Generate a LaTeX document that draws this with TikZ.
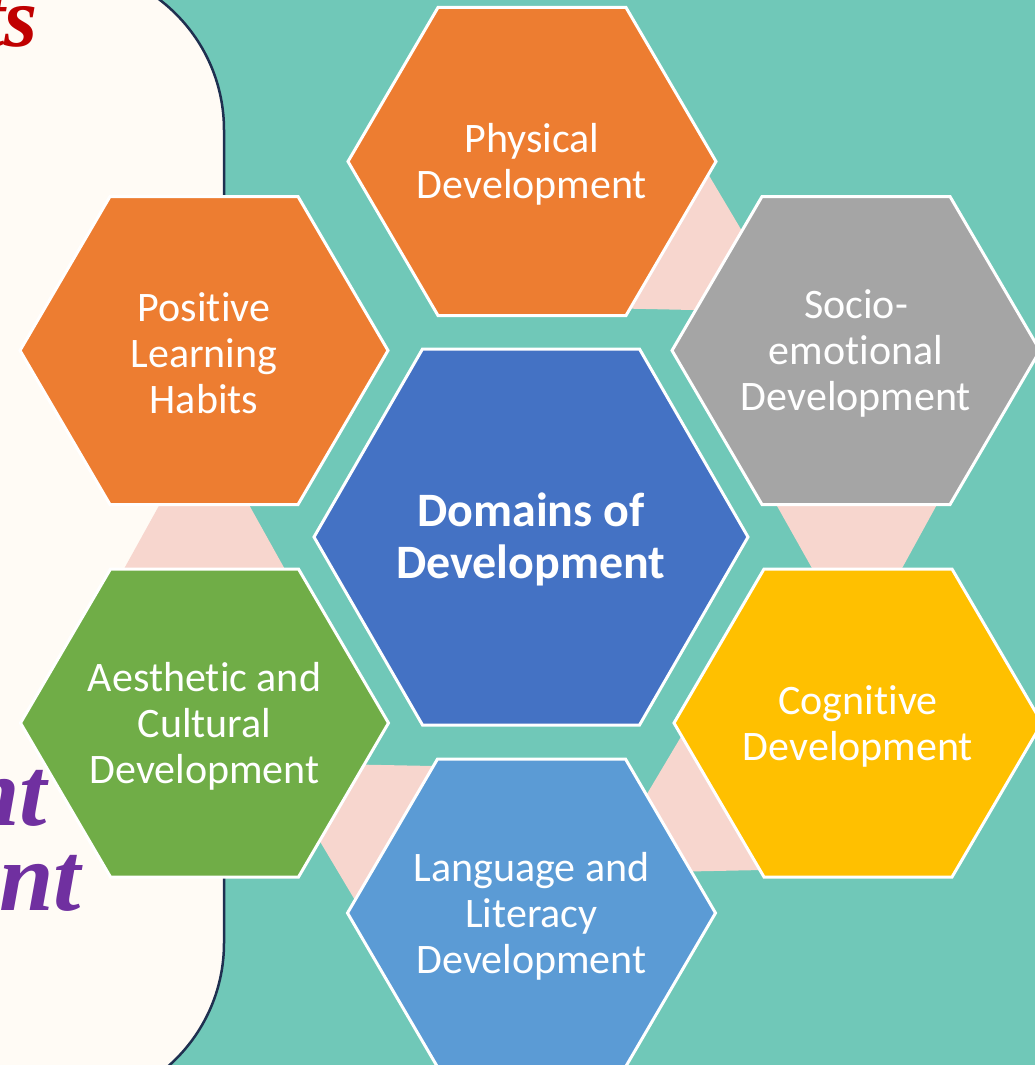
\documentclass[tikz,border=0pt]{standalone}
\usepackage{fontspec}
\setmainfont{Carlito}[Ligatures={CommonOff,RareOff}, Contextuals=AlternateOff]
\newfontfamily\titlefont{Liberation Serif}
\usetikzlibrary{calc}
\definecolor{bgteal}{HTML}{70C8B8}
\definecolor{panelcream}{HTML}{FFFBF5}
\definecolor{panelnavy}{HTML}{1F3050}
\definecolor{linkpink}{HTML}{F7D6CE}
\definecolor{hexorange}{HTML}{ED7D31}
\definecolor{hexgray}{HTML}{A5A5A5}
\definecolor{hexblue}{HTML}{4472C4}
\definecolor{hexgold}{HTML}{FFC000}
\definecolor{hexlight}{HTML}{5B9BD5}
\definecolor{hexgreen}{HTML}{70AD47}
\definecolor{titlered}{HTML}{C00000}
\definecolor{titlepurple}{HTML}{7030A0}
% #1 centre coordinate, #2 half width, #3 half top edge, #4 half height, #5 colour
\newcommand\hexshape[5]{%
  \filldraw[hexline, fill=#5] ($(#1)+(-#2,0)$) -- ($(#1)+(-#3,-#4)$) -- ($(#1)+(#3,-#4)$)
    -- ($(#1)+(#2,0)$) -- ($(#1)+(#3,#4)$) -- ($(#1)+(-#3,#4)$) -- cycle;}
% tapering link from #1 to #2
\newcommand\linkhex[2]{%
  \fill[linkfill] ($(#1)!80pt!(#2)!121.5pt!90:(#2)$) -- ($(#1)!270pt!(#2)!16pt!90:(#2)$)
    -- ($(#1)!270pt!(#2)!16pt!-90:(#2)$) -- ($(#1)!80pt!(#2)!121.5pt!-90:(#2)$) -- cycle;}
\begin{document}
\begin{tikzpicture}[x=1pt,y=-1pt,
  hexline/.style={draw=white, line width=3pt, line join=miter},
  hextext/.style={text=white, align=center, inner sep=0pt, yshift=-3pt, font=\fontsize{42}{46}\selectfont},
  centertext/.style={text=white, align=center, inner sep=0pt, yshift=-2pt, font=\bfseries\fontsize{48}{52}\selectfont},
  linkfill/.style={fill=linkpink},
  panel/.style={fill=panelcream, draw=panelnavy, line width=2.5pt, rounded corners=164pt},
  titletext/.style={anchor=base east, inner sep=0pt, font=\titlefont\bfseries\itshape}]
\path[use as bounding box, clip] (0,0) rectangle (1035,1065);
\fill[bgteal] (0,0) rectangle (1035,1065);
% left panel
\draw[panel] (-400,-34) rectangle (224,1107);
\node[titletext, text=titlered, font=\titlefont\bfseries\itshape\fontsize{85}{85}\selectfont] (redT) at (38,47) {ts};
\node[titletext, text=titlepurple, font=\titlefont\bfseries\itshape\fontsize{98}{98}\selectfont] (purA) at (47,825) {nt};
\node[titletext, text=titlepurple, font=\titlefont\bfseries\itshape\fontsize{98}{98}\selectfont] (purB) at (81,910) {nt};
% centres
\coordinate (phys) at (532,161.5);
\coordinate (socio) at (856,350.5);
\coordinate (cogn) at (858,723);
\coordinate (lang) at (531.5,913);
\coordinate (aest) at (204.5,723);
\coordinate (posi) at (204,350.5);
\coordinate (core) at (531,537);
% links
\linkhex{phys}{socio}
\linkhex{socio}{cogn}
\linkhex{cogn}{lang}
\linkhex{lang}{aest}
\linkhex{aest}{posi}
% hexagons
\hexshape{core}{217}{108.5}{188}{hexblue}
\hexshape{phys}{184}{94}{154}{hexorange}
\hexshape{socio}{184}{94}{154}{hexgray}
\hexshape{cogn}{184}{94}{154}{hexgold}
\hexshape{lang}{184}{94}{154}{hexlight}
\hexshape{aest}{184}{94}{154}{hexgreen}
\hexshape{posi}{184}{94}{154}{hexorange}
% texts
\node[centertext] (coreT) at (core) {Domains of\\Development};
\node[hextext] (physT) at (phys) {Physical\\Development};
\node[hextext] (socioT) at (socio) {Socio-\\emotional\\Development};
\node[hextext] (cognT) at (cogn) {Cognitive\\Development};
\node[hextext] (langT) at (lang) {Language and\\Literacy\\Development};
\node[hextext] (aestT) at (aest) {Aesthetic and\\Cultural\\Development};
\node[hextext] (posiT) at (posi) {Positive\\Learning\\Habits};
\end{tikzpicture}
\end{document}
